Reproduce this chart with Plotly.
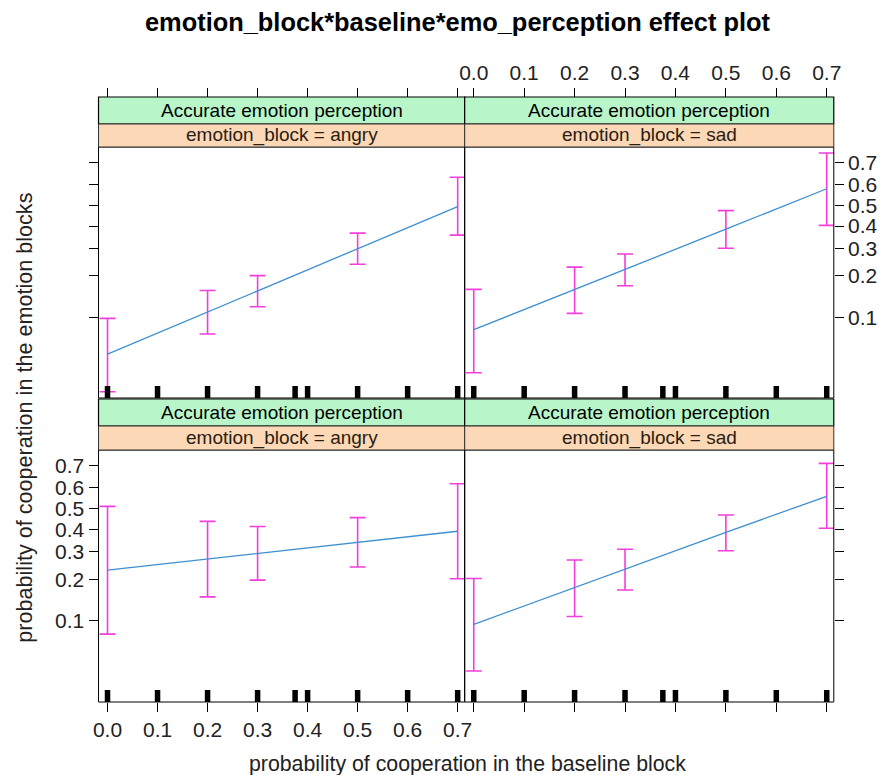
import numpy as np
import plotly.graph_objects as go

# ---------------- data (probabilities) ----------------
baseline = [0.0, 0.2, 0.3, 0.5, 0.7]
rug_values = [0.0, 0.1, 0.2, 0.3, 0.375, 0.4, 0.5, 0.6, 0.7]

top_angry_fit = [0.051, 0.110, 0.157, 0.299, 0.494]
top_angry_lower = [0.025, 0.074, 0.120, 0.239, 0.358]
top_angry_upper = [0.098, 0.158, 0.201, 0.367, 0.635]

top_sad_fit = [0.080, 0.160, 0.222, 0.385, 0.581]
top_sad_lower = [0.036, 0.107, 0.171, 0.301, 0.403]
top_sad_upper = [0.161, 0.229, 0.278, 0.474, 0.737]

bot_angry_fit = [0.231, 0.272, 0.294, 0.341, 0.391]
bot_angry_lower = [0.079, 0.151, 0.198, 0.242, 0.202]
bot_angry_upper = [0.511, 0.438, 0.413, 0.456, 0.619]

bot_sad_fit = [0.094, 0.176, 0.235, 0.386, 0.560]
bot_sad_lower = [0.040, 0.108, 0.169, 0.305, 0.405]
bot_sad_upper = [0.203, 0.268, 0.311, 0.469, 0.708]

x_tick_vals = [0.0, 0.1, 0.2, 0.3, 0.4, 0.5, 0.6, 0.7]
x_tick_text = ["0.0", "0.1", "0.2", "0.3", "0.4", "0.5", "0.6", "0.7"]
y_tick_probs = [0.1, 0.2, 0.3, 0.4, 0.5, 0.6, 0.7]
y_tick_text = ["0.1", "0.2", "0.3", "0.4", "0.5", "0.6", "0.7"]

strip_outer = "Accurate emotion perception"
strip_inner = ["emotion_block = angry", "emotion_block = sad"]

title_text = "emotion_block*baseline*emo_perception effect plot"
xlab = "probability of cooperation in the baseline block"
ylab = "probability of cooperation in the emotion blocks"

# ---------------- helpers ----------------
W, H = 891, 775


def logit(p):
    p = np.asarray(p, dtype=float)
    return np.log(p / (1 - p))


def fx(px):
    return px / W


def fy(py):
    return 1 - py / H


FONT = "Liberation Sans, Arial, Helvetica, sans-serif"
LINE_COL = "#3d8fd0"
CI_COL = "#f23edc"
GREEN = "#b8f6ca"
PEACH = "#fcd8b6"
TICK_FS = 21

X_RANGE = [-0.018, 0.714]
Y_RANGE = [-3.785, 1.147]

cols = [(94, 466), (466, 841)]
rows = [(147, 398), (450, 702)]
strips = [((97, 124), (124, 147)), ((399, 426), (426, 450))]

panels = [
    # (row, col, fit, lower, upper)
    (0, 0, top_angry_fit, top_angry_lower, top_angry_upper),
    (0, 1, top_sad_fit, top_sad_lower, top_sad_upper),
    (1, 0, bot_angry_fit, bot_angry_lower, bot_angry_upper),
    (1, 1, bot_sad_fit, bot_sad_lower, bot_sad_upper),
]

fig = go.Figure()
layout = dict(
    width=W, height=H,
    margin=dict(l=0, r=0, t=0, b=0),
    paper_bgcolor="white", plot_bgcolor="white",
    showlegend=False,
    font=dict(family=FONT, color="black", size=20),
)
shapes = []
annotations = []

rug_len = 12 / (251 / (Y_RANGE[1] - Y_RANGE[0]))

for i, (r, c, fit, lo, up) in enumerate(panels, start=1):
    xa = "x" if i == 1 else f"x{i}"
    ya = "y" if i == 1 else f"y{i}"
    lf, ll, lu = logit(fit), logit(lo), logit(up)
    fig.add_trace(go.Scatter(
        x=baseline, y=lf, mode="lines", xaxis=xa, yaxis=ya,
        line=dict(color=LINE_COL, width=1.3),
        error_y=dict(type="data", symmetric=False, array=lu - lf, arrayminus=lf - ll,
                     color=CI_COL, thickness=1.6, width=8),
        cliponaxis=False, hoverinfo="skip"))
    # rug
    rx, ry = [], []
    for v in rug_values:
        rx += [v, v, None]
        ry += [Y_RANGE[0], Y_RANGE[0] + rug_len, None]
    fig.add_trace(go.Scatter(x=rx, y=ry, mode="lines", xaxis=xa, yaxis=ya,
                             line=dict(color="black", width=5.5), hoverinfo="skip"))

    x0, x1 = cols[c]
    y0, y1 = rows[r]
    xdom = [fx(x0), fx(x1)]
    ydom = [fy(y1), fy(y0)]
    xkey = "xaxis" if i == 1 else f"xaxis{i}"
    ykey = "yaxis" if i == 1 else f"yaxis{i}"
    bottom = (r == 1)
    layout[xkey] = dict(
        domain=xdom, anchor=ya, range=X_RANGE, showgrid=False, zeroline=False,
        showline=False, tickvals=x_tick_vals, ticktext=x_tick_text,
        ticks="outside" if bottom else "", ticklen=9, tickcolor="black",
        showticklabels=(bottom and c == 0), side="bottom",
        tickfont=dict(size=TICK_FS, family=FONT, color="#222"))
    layout[ykey] = dict(
        domain=ydom, anchor=xa, range=Y_RANGE, showgrid=False, zeroline=False,
        showline=False, tickvals=list(logit(y_tick_probs)), ticktext=y_tick_text,
        ticks="outside", ticklen=9, tickcolor="black",
        side="left" if c == 0 else "right",
        showticklabels=(r == 1 and c == 0) or (r == 0 and c == 1),
        tickfont=dict(size=TICK_FS, family=FONT, color="#222"))
    # panel border
    shapes.append(dict(type="rect", xref="paper", yref="paper",
                       x0=fx(x0), x1=fx(x1), y0=fy(y1), y1=fy(y0),
                       line=dict(color="black", width=1), layer="above"))
    # strips
    (g0, g1), (o0, o1) = strips[r]
    shapes.append(dict(type="rect", xref="paper", yref="paper",
                       x0=fx(x0), x1=fx(x1), y0=fy(g1), y1=fy(g0),
                       fillcolor=GREEN, line=dict(color="black", width=1.2)))
    shapes.append(dict(type="rect", xref="paper", yref="paper",
                       x0=fx(x0), x1=fx(x1), y0=fy(o1), y1=fy(o0),
                       fillcolor=PEACH, line=dict(color="#333", width=1)))
    annotations.append(dict(text=strip_outer, xref="paper", yref="paper",
                            x=fx((x0 + x1) / 2), y=fy((g0 + g1) / 2),
                            showarrow=False, font=dict(size=19, family=FONT, color="black"),
                            xanchor="center", yanchor="middle"))
    annotations.append(dict(text=strip_inner[c], xref="paper", yref="paper",
                            x=fx((x0 + x1) / 2), y=fy((o0 + o1) / 2),
                            showarrow=False, font=dict(size=19, family=FONT, color="#2a1d12"),
                            xanchor="center", yanchor="middle"))

# top axes (above strips), each overlaying the x axis of its own top-row panel
for j, base_x, base_y, c in [(5, "x", "y", 0), (6, "x2", "y2", 1)]:
    fig.add_trace(go.Scatter(x=[None], y=[None], xaxis=f"x{j}", yaxis=base_y,
                             hoverinfo="skip"))
    layout[f"xaxis{j}"] = dict(
        overlaying=base_x, anchor="free", position=fy(97), side="top",
        range=X_RANGE, showgrid=False, zeroline=False, showline=False,
        tickvals=x_tick_vals, ticktext=x_tick_text, ticks="outside", ticklen=9,
        tickcolor="black", showticklabels=(c == 1),
        tickfont=dict(size=TICK_FS, family=FONT, color="#222"))

annotations.append(dict(text="<b>" + title_text + "</b>", xref="paper", yref="paper",
                        x=fx(459), y=fy(22), showarrow=False,
                        font=dict(size=25.4, family=FONT, color="black"),
                        xanchor="center", yanchor="middle"))
annotations.append(dict(text=xlab, xref="paper", yref="paper",
                        x=fx(469), y=fy(764), showarrow=False,
                        font=dict(size=21.3, family=FONT, color="#222"),
                        xanchor="center", yanchor="middle"))
annotations.append(dict(text=ylab, xref="paper", yref="paper",
                        x=fx(19), y=fy(418), showarrow=False, textangle=-90,
                        font=dict(size=21.6, family=FONT, color="#222"),
                        xanchor="center", yanchor="middle"))

layout["shapes"] = shapes
layout["annotations"] = annotations
fig.update_layout(**layout)
fig.write_html("out.html")
